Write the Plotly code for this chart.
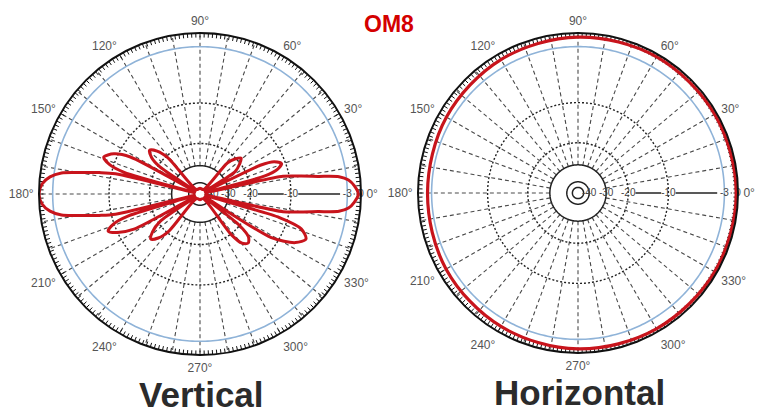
import numpy as np
import plotly.graph_objects as go

# ---------------- data ----------------
title_text = "OM8"
panel_titles = ["Vertical", "Horizontal"]

angle_label_deg = list(range(0, 360, 30))
angle_label_text = [f"{a}°" for a in angle_label_deg]
angle_minor_step = 1.5

radial_label_db = [-40, -30, -20, -10, -3, 0]
radial_label_text = ["-40", "-30", "-20", "-10", "-3", "0"]

# radial dB scale of the chart (ring positions)
scale_db = [-50, -40, -30, -20, -10, -3, 0]
scale_r = [0.0, 0.07, 0.176, 0.314, 0.565, 0.915, 1.0]

vertical_theta = [0, 3, 5.4, 7.1, 8.5, 10, 12, 13.5, 15.5, 17.5, 20.5, 23.5, 25.5, 28,
                  32.5, 37, 41, 45, 48.5, 52, 90, 128, 131.5, 135, 139, 143, 146,
                  149, 152, 155, 159, 162, 164, 165.5, 166.5, 168, 170, 171.4,
                  173.5, 176.4, 180, 183.6, 186.5, 188.6, 190, 192, 193.5, 194.5, 197,
                  199, 202, 205, 208, 211, 214.5, 218.5, 222.5, 226.5, 230, 233,
                  270, 304, 307.5, 310.5, 314.5, 318.5, 321.5, 325, 328.5, 333, 337, 341,
                  343.5, 346.5, 348, 350, 351.5, 352.9, 354.6, 357, 360]
vertical_db = [-0.6, -1.4, -2.6, -3.9, -6.5, -8.5, -11.5, -45, -16, -12.5, -11, -12.5, -16, -45,
               -24, -20.5, -19, -20.5, -24, -45, -45, -45, -21, -17.5, -16, -17.5, -21,
               -45, -13, -9.5, -8.5, -9.5, -13, -45, -11, -8.5, -6, -3.9,
               -2.2, -0.6, 0, -0.6, -2.2, -3.9, -6, -8.5, -11, -45, -14,
               -10, -9, -10, -14, -45, -21, -17.5, -16, -17.5, -21, -45,
               -45, -45, -20, -16.5, -15.5, -16.5, -20, -45, -12, -8, -7, -8,
               -12, -45, -11.5, -8.5, -6.5, -3.9, -2.6, -1.4, -0.6]

horizontal_theta = [0, 30, 60, 90, 120, 150, 180, 210, 240, 270, 300, 330, 360]
horizontal_db = [-0.4, -0.5, -0.6, -0.9, -1.3, -1.8, -2.1, -1.7, -1.3, -0.9, -0.7, -0.5, -0.4]

# ---------------- styling ----------------
RED = "#c8141c"
BLUE = "#8fb3d8"
GRID = "#4a4a4a"
FONT = "Liberation Sans, Arial, sans-serif"


def to_r(db):
    return np.interp(np.asarray(db, dtype=float), scale_db, scale_r)


fig = go.Figure()
ring = np.linspace(0, 360, 361)
comb_angles = np.arange(0, 360, angle_minor_step)

for idx, sub in enumerate(["polar", "polar2"]):
    # dashed spokes every 10 degrees (the 0 deg spoke is the labelled axis)
    sr, st = [], []
    for a in range(10, 360, 10):
        sr += [float(to_r(-30)), 1.0, None]
        st += [a, a, None]
    fig.add_trace(go.Scatterpolar(r=sr, theta=st, mode="lines", subplot=sub,
                                  line=dict(color=GRID, width=1.1, dash="4px,3px"),
                                  hoverinfo="skip", showlegend=False))
    # fine tick comb just inside the outer circle
    cr, ct = [], []
    for a in comb_angles:
        cr += [0.972, 1.0, None]
        ct += [float(a), float(a), None]
    fig.add_trace(go.Scatterpolar(r=cr, theta=ct, mode="lines", subplot=sub,
                                  line=dict(color="#111", width=1),
                                  hoverinfo="skip", showlegend=False))
    # dotted rings -20 and -10
    for db in (-20, -10):
        fig.add_trace(go.Scatterpolar(r=[float(to_r(db))] * len(ring), theta=ring,
                                      mode="lines", subplot=sub,
                                      line=dict(color="#222", width=1.4, dash="2px,2px"),
                                      hoverinfo="skip", showlegend=False))
    # solid inner rings
    for db in (-30, -40, -45):
        fig.add_trace(go.Scatterpolar(r=[float(to_r(db))] * len(ring), theta=ring,
                                      mode="lines", subplot=sub,
                                      line=dict(color="#222", width=1.5),
                                      hoverinfo="skip", showlegend=False))
    # blue -3 dB ring
    fig.add_trace(go.Scatterpolar(r=[float(to_r(-3))] * len(ring), theta=ring,
                                  mode="lines", subplot=sub,
                                  line=dict(color=BLUE, width=1.6),
                                  hoverinfo="skip", showlegend=False))
    # solid labelled axis along 0 deg, broken around the labels
    lab_r = to_r(radial_label_db)
    gap = 0.045
    ar, at = [], []
    for a_r, b_r in zip(lab_r[2:-1], lab_r[3:]):
        ar += [a_r + gap, b_r - gap, None]
        at += [0, 0, None]
    fig.add_trace(go.Scatterpolar(r=ar, theta=at, mode="lines", subplot=sub,
                                  line=dict(color="#222", width=1.3),
                                  hoverinfo="skip", showlegend=False))
    fig.add_trace(go.Scatterpolar(r=lab_r, theta=[0] * len(lab_r), mode="text",
                                  text=radial_label_text, subplot=sub,
                                  textfont=dict(family=FONT, size=10, color="#444"),
                                  hoverinfo="skip", showlegend=False))

# patterns
fig.add_trace(go.Scatterpolar(r=to_r(vertical_db), theta=vertical_theta, mode="lines",
                              subplot="polar",
                              line=dict(color=RED, width=3, shape="spline", smoothing=0.8),
                              hoverinfo="skip", showlegend=False))
fig.add_trace(go.Scatterpolar(r=to_r(horizontal_db), theta=horizontal_theta, mode="lines",
                              subplot="polar2",
                              line=dict(color=RED, width=3.2, shape="spline", smoothing=1),
                              hoverinfo="skip", showlegend=False))


def polar_layout(xd, yd):
    return dict(
        domain=dict(x=xd, y=yd),
        bgcolor="white",
        radialaxis=dict(visible=False, range=[0, 1]),
        angularaxis=dict(rotation=0, direction="counterclockwise",
                         tickmode="array", tickvals=angle_label_deg, ticktext=angle_label_text,
                         ticks="outside", ticklen=2, tickwidth=1, tickcolor="rgba(0,0,0,0)",
                         showline=True, linecolor="#111", linewidth=2,
                         showgrid=False,
                         tickfont=dict(family=FONT, size=12, color="#555")),
    )


W, H = 769, 416
fig.update_layout(
    width=W, height=H,
    margin=dict(l=0, r=0, t=0, b=0),
    paper_bgcolor="white",
    polar=polar_layout([39 / W, 361 / W], [1 - 355 / H, 1 - 33 / H]),
    polar2=polar_layout([418 / W, 738 / W], [1 - 353 / H, 1 - 33 / H]),
    annotations=[
        dict(text=f"<b>{title_text}</b>", x=389 / W, y=1 - 24 / H, xref="paper", yref="paper",
             xanchor="center", yanchor="middle", showarrow=False,
             font=dict(family=FONT, size=23, color="#d40000")),
        dict(text=f"<b>{panel_titles[0]}</b>", x=201 / W, y=1 - 394 / H, xref="paper",
             yref="paper", xanchor="center", yanchor="middle", showarrow=False,
             font=dict(family=FONT, size=35, color="#2b2b2b")),
        dict(text=f"<b>{panel_titles[1]}</b>", x=579 / W, y=1 - 392 / H, xref="paper",
             yref="paper", xanchor="center", yanchor="middle", showarrow=False,
             font=dict(family=FONT, size=35, color="#2b2b2b")),
    ],
)

fig.write_html("out.html", config={"displayModeBar": False},
               post_script="document.body.style.margin='0';document.body.style.padding='0';")
